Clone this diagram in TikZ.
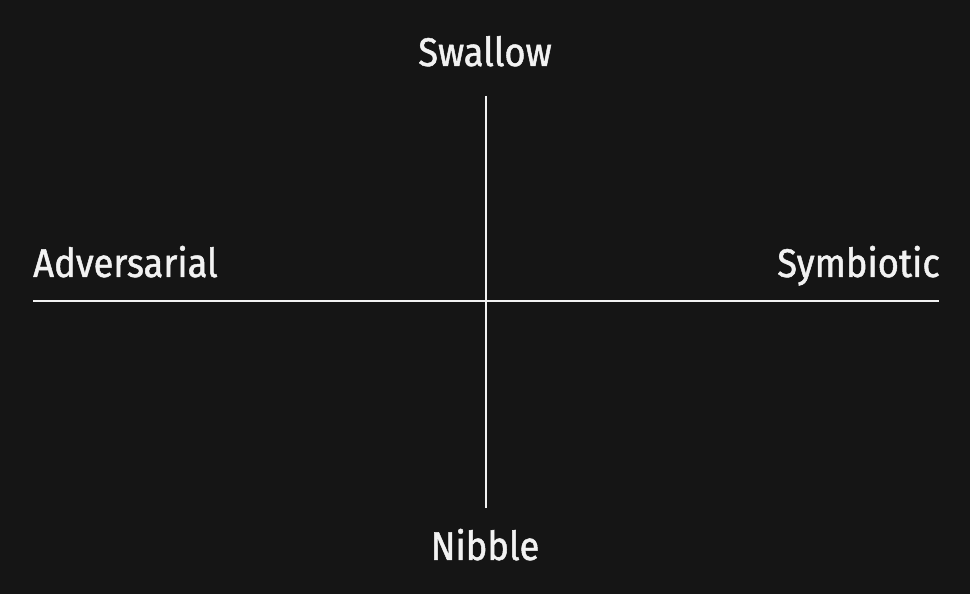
\documentclass[tikz,border=0pt]{standalone}
\usepackage{fontspec}
\setmainfont{Fira Sans}[FakeStretch=0.91,FakeBold=1.2]
\definecolor{bgdark}{HTML}{151515}
\definecolor{axiswhite}{HTML}{F2F2F2}
\tikzset{
	axislabel/.style={text=axiswhite,inner sep=0pt,font=\fontsize{40}{48}\selectfont},
	axisline/.style={draw=axiswhite,line width=1.3pt}
}
\begin{document}
\begin{tikzpicture}[x=1pt,y=1pt]
		\fill[bgdark] (0,0) rectangle (970,594);
		\useasboundingbox (0,0) rectangle (970,594);
		\coordinate (left) at (33,293);
		\coordinate (right) at (939,293);
		\coordinate (top) at (486,498);
		\coordinate (bottom) at (486,86);
		\draw[axisline] (left) -- (right);
		\draw[axisline] (top) -- (bottom);
		\node[axislabel,anchor=base] (swallow) at (485,528) {Swallow};
		\node[axislabel,anchor=base] (nibble) at (485,34) {Nibble};
		\node[axislabel,anchor=base west] (adversarial) at (33,317) {Adversarial};
		\node[axislabel,anchor=base east] (symbiotic) at (940,317) {Symbiotic};
		\end{tikzpicture}
\end{document}
